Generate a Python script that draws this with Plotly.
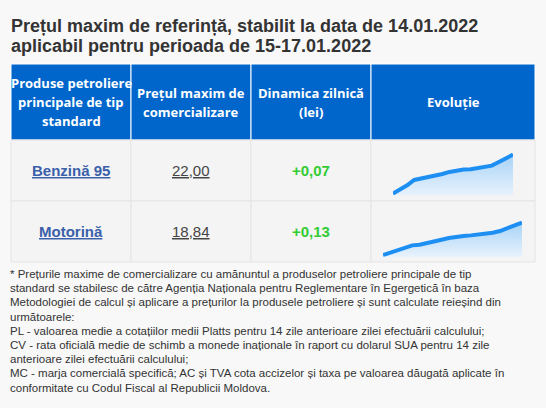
import plotly.graph_objects as go

# --- data -------------------------------------------------------------
title_lines = [
    "Prețul maxim de referință, stabilit la data de 14.01.2022",
    "aplicabil pentru perioada de 15-17.01.2022",
]
header_labels = [
    ["Produse petroliere", "principale de tip", "standard"],
    ["Prețul maxim de", "comercializare"],
    ["Dinamica zilnică", "(lei)"],
    ["Evoluție"],
]
products = ["Benzină 95", "Motorină"]
max_prices = ["22,00", "18,84"]
daily_change = ["+0,07", "+0,13"]

benzina_evolution = [20.83, 20.95, 21.08, 21.24, 21.28, 21.32, 21.37, 21.42, 21.48,
                     21.53, 21.55, 21.56, 21.59, 21.62, 21.67, 21.78, 21.88, 22.00]
motorina_evolution = [17.87, 17.94, 18.01, 18.10, 18.16, 18.18, 18.22, 18.27, 18.33, 18.38,
                      18.42, 18.44, 18.46, 18.48, 18.50, 18.54, 18.59, 18.69, 18.76, 18.84]

footnote_lines = [
    "* Prețurile maxime de comercializare cu amănuntul a produselor petroliere principale de tip",
    "standard se stabilesc de către Agenția Naționala pentru Reglementare în Egergetică în baza",
    "Metodologiei de calcul și aplicare a prețurilor la produsele petroliere și sunt calculate reieșind din",
    "următoarele:",
    "PL - valoarea medie a cotațiilor medii Platts pentru 14 zile anterioare zilei efectuării calculului;",
    "CV - rata oficială medie de schimb a monede inaționale în raport cu dolarul SUA pentru 14 zile",
    "anterioare zilei efectuării calculului;",
    "MC - marja comercială specifică; AC și TVA cota accizelor și taxa pe valoarea dăugată aplicate în",
    "conformitate cu Codul Fiscal al Republicii Moldova.",
]

# --- layout constants (pixels) -----------------------------------------
W, H = 546, 408
col_w = [120, 120, 120, 164]
tbl_x0, tbl_y0 = 11, 64
head_h, row_h = 76, 61

BLUE = "#0066cc"
PAGE_BG = "#f8f8f8"
CELL_BG = "#f4f4f4"
GRID = "#e4e4e4"
ARIAL = "Arial, Liberation Sans, sans-serif"
OPEN = "Open Sans, sans-serif"

col_x = [tbl_x0]
for w in col_w:
    col_x.append(col_x[-1] + w)
row_y = [tbl_y0, tbl_y0 + head_h] + [tbl_y0 + head_h + row_h * (i + 1) for i in range(len(products))]

fig = go.Figure()
shapes = []
annotations = []

# header cells
for i in range(len(col_w)):
    shapes.append(dict(type="rect", xref="x", yref="y", x0=col_x[i], x1=col_x[i + 1],
                       y0=row_y[0], y1=row_y[1], fillcolor=BLUE,
                       line=dict(color="white", width=1), layer="below"))
    lines = header_labels[i]
    cy = (row_y[0] + row_y[1]) / 2
    for k, txt in enumerate(lines):
        annotations.append(dict(xref="x", yref="y", x=(col_x[i] + col_x[i + 1]) / 2,
                                y=cy + (k - (len(lines) - 1) / 2) * 19, text="<b>%s</b>" % txt,
                                showarrow=False, xanchor="center", yanchor="middle",
                                font=dict(family=OPEN, size=13, color="white")))

# body cells
for r in range(len(products)):
    y0, y1 = row_y[r + 1], row_y[r + 2]
    cy = (y0 + y1) / 2
    for i in range(len(col_w)):
        shapes.append(dict(type="rect", xref="x", yref="y", x0=col_x[i], x1=col_x[i + 1],
                           y0=y0, y1=y1, fillcolor=CELL_BG,
                           line=dict(color=GRID, width=1), layer="below"))
    cells = [
        ("<b>%s</b>" % products[r], dict(family=ARIAL, size=15, color="#3a60aa", lineposition="under")),
        (max_prices[r], dict(family=ARIAL, size=15, color="#444444", lineposition="under")),
        ("<b>%s</b>" % daily_change[r], dict(family=ARIAL, size=15, color="#33cc33")),
    ]
    for i, (txt, fnt) in enumerate(cells):
        annotations.append(dict(xref="x", yref="y", x=(col_x[i] + col_x[i + 1]) / 2, y=cy,
                                text=txt, showarrow=False, xanchor="center", yanchor="middle",
                                font=fnt))

# title
for k, txt in enumerate(title_lines):
    annotations.append(dict(xref="x", yref="y", x=9, y=26 + 20 * k, text="<b>%s</b>" % txt,
                            showarrow=False, xanchor="left", yanchor="middle",
                            font=dict(family=ARIAL, size=18, color="#333333")))

# footnote
for k, txt in enumerate(footnote_lines):
    annotations.append(dict(xref="x", yref="y", x=8, y=274 + 14.2 * k, text=txt,
                            showarrow=False, xanchor="left", yanchor="middle",
                            font=dict(family=ARIAL, size=11.5, color="#333333")))

# invisible pixel axis carrying the table
fig.add_trace(go.Scatter(x=[0, W], y=[0, H], mode="markers", marker=dict(opacity=0),
                         hoverinfo="skip", showlegend=False))

# sparklines: (series, x-domain px, y-domain px (top, bottom), value range)
sparks = [
    (benzina_evolution, (393, 513), (152.6, 195.3), (20.78, 22.06)),
    (motorina_evolution, (383, 522), (220.7, 256.7), (17.82, 18.90)),
]
axes = {}
for n, (vals, (px0, px1), (pt, pb), yr) in enumerate(sparks, start=2):
    fig.add_trace(go.Scatter(
        x=list(range(len(vals))), y=vals, mode="lines", xaxis="x%d" % n, yaxis="y%d" % n,
        line=dict(color="#1e8ff2", width=4), fill="tozeroy",
        fillgradient=dict(type="vertical", start=yr[0], stop=yr[1],
                          colorscale=[[0, "#e8f2fc"], [1, "#a3d1f7"]]),
        hoverinfo="skip", showlegend=False))
    axes["xaxis%d" % n] = dict(domain=[px0 / W, px1 / W], range=[0, len(vals) - 1],
                               visible=False, fixedrange=True, anchor="y%d" % n)
    axes["yaxis%d" % n] = dict(domain=[1 - pb / H, 1 - pt / H], range=list(yr),
                               visible=False, fixedrange=True, anchor="x%d" % n)

fig.update_layout(
    width=W, height=H, margin=dict(l=0, r=0, t=0, b=0),
    paper_bgcolor=PAGE_BG, plot_bgcolor="rgba(0,0,0,0)",
    xaxis=dict(range=[0, W], visible=False, fixedrange=True),
    yaxis=dict(range=[H, 0], visible=False, fixedrange=True),
    shapes=shapes, annotations=annotations, showlegend=False,
    **axes,
)

fig.write_html("out.html", config={"displayModeBar": False},
               post_script="document.body.style.margin='0';")
